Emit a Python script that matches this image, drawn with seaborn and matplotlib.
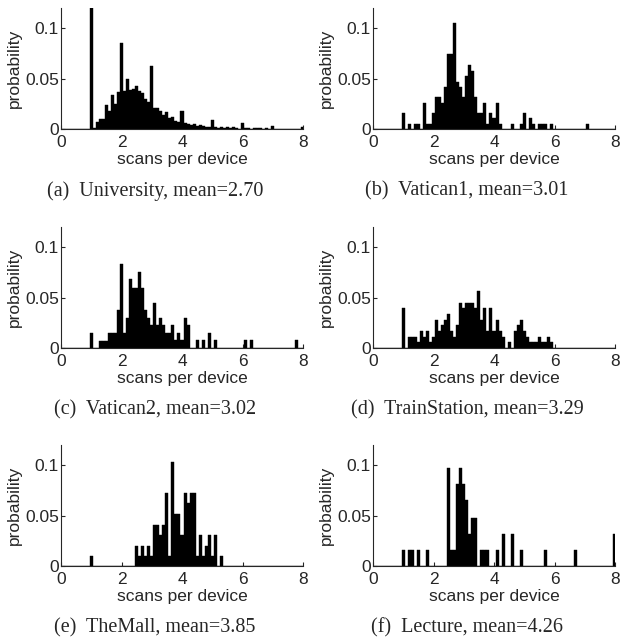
import numpy as np
import pandas as pd
import matplotlib
matplotlib.use("Agg")
import matplotlib.pyplot as plt
import seaborn as sns

# 每个场景: 柱中心 (scans per device) 与概率
uni_x = [1.0, 1.1, 1.2, 1.3, 1.4, 1.5, 1.6, 1.7, 1.8, 1.9,
         2.0, 2.1, 2.2, 2.3, 2.4, 2.5, 2.6, 2.7, 2.8, 2.9,
         3.0, 3.1, 3.2, 3.3, 3.4, 3.5, 3.6, 3.7, 3.8, 3.9,
         4.0, 4.1, 4.2, 4.3, 4.4, 4.5, 4.6, 4.7, 4.8, 4.9,
         5.0, 5.1, 5.2, 5.3, 5.4, 5.5, 5.6, 5.7, 5.8,
         6.0, 6.1, 6.2, 6.4, 6.5, 6.6, 6.8, 7.0, 8.0]
uni_p = [0.130, 0.001, 0.007, 0.010, 0.010, 0.024, 0.018, 0.034, 0.025, 0.037,
         0.085, 0.038, 0.050, 0.039, 0.040, 0.043, 0.038, 0.036, 0.030, 0.027,
         0.062, 0.021, 0.021, 0.018, 0.014, 0.017, 0.011, 0.012, 0.008, 0.007,
         0.018, 0.006, 0.005, 0.004, 0.005, 0.003, 0.004, 0.003, 0.002, 0.002,
         0.009, 0.002, 0.001, 0.002, 0.001, 0.002, 0.001, 0.002, 0.001,
         0.006, 0.001, 0.001, 0.001, 0.001, 0.001, 0.001, 0.003, 0.002]

vat1_x = [1.0, 1.2, 1.4, 1.5, 1.7, 1.8, 1.9,
          2.0, 2.1, 2.2, 2.3, 2.4, 2.5, 2.6, 2.7, 2.8, 2.9,
          3.0, 3.1, 3.2, 3.3, 3.4, 3.5, 3.6, 3.7, 3.8, 3.9,
          4.0, 4.1, 4.2, 4.6, 4.9,
          5.0, 5.2, 5.3, 5.5, 5.6, 5.7, 5.9, 7.1]
vat1_p = [0.016, 0.005, 0.005, 0.005, 0.026, 0.005, 0.005,
          0.016, 0.032, 0.032, 0.026, 0.042, 0.074, 0.074, 0.105, 0.047, 0.042,
          0.032, 0.053, 0.063, 0.058, 0.032, 0.016, 0.016, 0.026, 0.005, 0.016,
          0.011, 0.026, 0.005, 0.005, 0.005,
          0.016, 0.011, 0.005, 0.005, 0.005, 0.005, 0.005, 0.005]

vat2_x = [1.0, 1.3, 1.4, 1.5, 1.6, 1.7, 1.8, 1.9,
          2.0, 2.1, 2.2, 2.3, 2.4, 2.5, 2.6, 2.7, 2.8, 2.9,
          3.0, 3.1, 3.2, 3.3, 3.4, 3.5, 3.6, 3.7, 3.8, 3.9,
          4.0, 4.1, 4.2, 4.5, 4.7, 4.9,
          5.1, 6.1, 6.3, 7.8]
vat2_p = [0.015, 0.007, 0.007, 0.007, 0.015, 0.015, 0.015, 0.038,
          0.083, 0.015, 0.030, 0.068, 0.060, 0.060, 0.075, 0.060, 0.038, 0.030,
          0.023, 0.045, 0.023, 0.030, 0.023, 0.015, 0.015, 0.023, 0.008, 0.015,
          0.008, 0.030, 0.023, 0.008, 0.008, 0.015,
          0.008, 0.008, 0.008, 0.008]

train_x = [1.0, 1.2, 1.3, 1.4, 1.5, 1.6, 1.7, 1.8, 1.9,
           2.0, 2.1, 2.2, 2.3, 2.4, 2.5, 2.6, 2.7, 2.8, 2.9,
           3.0, 3.1, 3.2, 3.3, 3.4, 3.5, 3.6, 3.7, 3.8, 3.9,
           4.0, 4.1, 4.2, 4.3, 4.5, 4.7, 4.8, 4.9,
           5.0, 5.1, 5.2, 5.3, 5.4, 5.5, 5.6, 5.7, 5.8, 5.9]
train_p = [0.040, 0.011, 0.011, 0.011, 0.006, 0.017, 0.011, 0.017, 0.006,
           0.011, 0.028, 0.017, 0.023, 0.028, 0.034, 0.017, 0.011, 0.023, 0.045,
           0.040, 0.045, 0.045, 0.045, 0.040, 0.057, 0.028, 0.040, 0.017, 0.040,
           0.017, 0.028, 0.017, 0.011, 0.006, 0.017, 0.023, 0.028,
           0.017, 0.011, 0.006, 0.006, 0.006, 0.011, 0.006, 0.006, 0.011, 0.006]

mall_x = [1.0, 2.5, 2.6, 2.7, 2.8, 2.9,
          3.0, 3.1, 3.2, 3.3, 3.4, 3.5, 3.6, 3.7, 3.8, 3.9,
          4.0, 4.1, 4.2, 4.3, 4.4, 4.5, 4.6, 4.7, 4.8, 4.9,
          5.0, 5.1, 5.3]
mall_p = [0.010, 0.020, 0.010, 0.020, 0.010, 0.020,
          0.010, 0.041, 0.041, 0.031, 0.041, 0.072, 0.010, 0.103, 0.052, 0.052,
          0.031, 0.072, 0.062, 0.072, 0.072, 0.010, 0.031, 0.010, 0.020, 0.031,
          0.010, 0.031, 0.010]

lect_x = [1.0, 1.2, 1.3, 1.5, 1.8,
          2.5, 2.6, 2.7, 2.8, 2.9, 3.0, 3.1, 3.2, 3.3, 3.4,
          3.6, 3.7, 3.8, 4.1, 4.3, 4.6, 4.9, 5.7, 6.7, 8.0]
lect_p = [0.016, 0.016, 0.016, 0.016, 0.016,
          0.097, 0.016, 0.016, 0.081, 0.097, 0.081, 0.065, 0.032, 0.048, 0.048,
          0.016, 0.016, 0.016, 0.016, 0.032, 0.032, 0.016, 0.016, 0.016, 0.032]

captions = ["(a)  University, mean=2.70", "(b)  Vatican1, mean=3.01",
            "(c)  Vatican2, mean=3.02", "(d)  TrainStation, mean=3.29",
            "(e)  TheMall, mean=3.85", "(f)  Lecture, mean=4.26"]
panels = [(uni_x, uni_p), (vat1_x, vat1_p), (vat2_x, vat2_p),
          (train_x, train_p), (mall_x, mall_p), (lect_x, lect_p)]

sns.set_style("ticks")
plt.rcParams['font.family'] = ['Liberation Sans', 'DejaVu Sans']
plt.rcParams['font.size'] = 12.5
plt.rcParams['xtick.direction'] = 'in'
plt.rcParams['ytick.direction'] = 'in'

fig = plt.figure(figsize=(6.21, 6.39), dpi=100)

col_left = [61 / 621, 373 / 621]
row_bottom = [1 - 129 / 639, 1 - 348 / 639, 1 - 566 / 639]
ax_w, ax_h = 242 / 621, 121 / 639
cap_x = [155 / 621, 467 / 621]
cap_y = [1 - 191 / 639, 1 - 410 / 639, 1 - 628 / 639]

for i, ((xs, ps), cap) in enumerate(zip(panels, captions)):
    r, c = divmod(i, 2)
    ax = fig.add_axes([col_left[c], row_bottom[r], ax_w, ax_h])
    df = pd.DataFrame({'scans': xs, 'prob': ps})
    sns.histplot(data=df, x='scans', weights='prob', binwidth=0.1,
                 binrange=(-0.05, 8.05), color='black', edgecolor='black',
                 linewidth=0.3, alpha=1, ax=ax)
    ax.set_xlim(0, 8)
    ax.set_ylim(0, 0.12)
    ax.set_xticks([0, 2, 4, 6, 8])
    ax.set_xticklabels(['0', '2', '4', '6', '8'])
    ax.set_yticks([0, 0.05, 0.1])
    ax.set_yticklabels(['0', '0.05', '0.1'])
    ax.tick_params(axis='x', length=3, width=0.8, pad=4.5, labelsize=12.5)
    ax.tick_params(axis='y', length=3, width=0.8, pad=1.5, labelsize=12.5)
    ax.spines['top'].set_visible(False)
    ax.spines['right'].set_visible(False)
    for s in ['left', 'bottom']:
        ax.spines[s].set_linewidth(0.8)
    ax.set_xlabel('scans per device', labelpad=1.5)
    ax.set_ylabel('probability', labelpad=2)
    fig.text(cap_x[c], cap_y[r], cap, ha='center', va='center',
             family=['Liberation Serif', 'DejaVu Serif'], fontsize=14.5)

fig.savefig('out.png', dpi=100)
